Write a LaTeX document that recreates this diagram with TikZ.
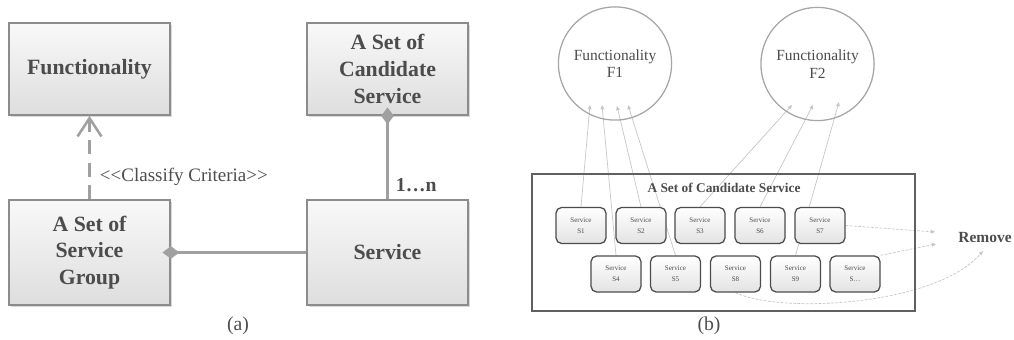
\documentclass[tikz,border=0pt]{standalone}
\usepackage{fontspec}
\setmainfont{Liberation Serif}
\usetikzlibrary{arrows.meta,shadows,backgrounds}
\definecolor{boxline}{HTML}{8C8C8C}
\definecolor{txtgray}{HTML}{4C4C4C}
\definecolor{linkgray}{HTML}{A0A0A0}
\begin{document}
\begin{tikzpicture}[x=0.025cm,y=-0.025cm,
  umlbox/.style={draw=boxline,line width=1.2pt,top color=gray!5,bottom color=gray!26,
    drop shadow={shadow xshift=1.5pt,shadow yshift=-1.5pt,opacity=0.3},
    minimum width=4.025cm,inner sep=0pt,align=center,text=txtgray,
    font=\fontsize{15.5}{19}\selectfont\bfseries},
  umllink/.style={draw=linkgray,line width=1.7pt},
  fcircle/.style={circle,draw=gray!70,line width=0.9pt,minimum size=2.83cm,inner sep=0pt,
    align=center,text=txtgray,font=\fontsize{11}{12.5}\selectfont},
  svcbox/.style={draw=gray!60!black,line width=0.9pt,rounded corners=4pt,top color=white,
    bottom color=gray!22,minimum width=1.25cm,minimum height=0.9cm,inner sep=0pt,
    align=center,text=txtgray,font=\fontsize{5}{8}\selectfont},
  svclink/.style={draw=gray!45,line width=0.5pt,-{Triangle[length=3pt,width=2.6pt]}},
  remlink/.style={svclink,dash pattern=on 2pt off 1pt}]
\useasboundingbox (0,0) rectangle (1014,340);
% (a)
\node[umlbox,minimum height=2.3cm] (func) at (89.5,69) {Functionality};
\node[umlbox,minimum height=2.3cm] (cand) at (387.5,69) {A Set of\\Candidate\\Service};
\node[umlbox,minimum height=2.625cm] (group) at (89.5,252.5) {A Set of\\Service\\Group};
\node[umlbox,minimum height=2.625cm] (serv) at (387.5,252.5) {Service};
\draw[umllink,dash pattern=on 10pt off 6pt,-{Straight Barb[length=13pt,width=17pt,line width=1.8pt]}] (group.north) -- (func.south);
\draw[umllink,{Diamond[length=12pt,width=9pt]}-,shorten <=-6pt] (group.east) -- (serv.west);
\draw[umllink,{Diamond[length=12pt,width=9pt]}-,shorten <=-6pt] (cand.south) -- (serv.north);
\node[anchor=west,text=txtgray,font=\fontsize{13.5}{16}\selectfont] (crit) at (95,177) {<\kern0pt<Classify Criteria>\kern0pt>};
\node[anchor=west,text=txtgray,font=\fontsize{14}{16}\selectfont\bfseries] (mult) at (391,185) {1…n};
\node[text=txtgray,font=\fontsize{14}{16}\selectfont] (capa) at (238,326) {(a)};
% (b)
\node[fcircle] (f1) at (615,63.5) {Functionality\\F1};
\node[fcircle] (f2) at (817.5,64) {Functionality\\F2};
\node[draw=gray!75!black,line width=1pt,minimum width=9.575cm,minimum height=3.425cm,inner sep=0pt] (cset) at (723.5,242.5) {};
\node[text=txtgray,font=\fontsize{9.5}{11}\selectfont\bfseries] (csettitle) at (724,188) {A Set of Candidate Service};
\foreach \nm/\px/\py/\lab in {s1/581/225.5/S1,s2/641/225.5/S2,s3/700/225.5/S3,s6/760/225.5/S6,s7/820/225.5/S7,
  s4/616/274/S4,s5/675.5/274/S5,s8/735.5/274/S8,s9/795.5/274/S9,sn/855/274/S…}
  \node[svcbox] (\nm) at (\px,\py) {Service\\\lab};
\node[text=txtgray,font=\fontsize{11}{13}\selectfont\bfseries] (rem) at (985,238) {Remove};
\node[text=txtgray,font=\fontsize{14}{16}\selectfont] (capb) at (709,326) {(b)};
\coordinate (f1a) at ([shift={(-25,41.5)}]f1.center);
\coordinate (f1b) at ([shift={(-13,41.5)}]f1.center);
\coordinate (f1c) at ([shift={(2,42.5)}]f1.center);
\coordinate (f1d) at ([shift={(13,41.5)}]f1.center);
\coordinate (f2a) at ([shift={(-25.5,41)}]f2.center);
\coordinate (f2b) at ([shift={(-4.5,41)}]f2.center);
\coordinate (f2c) at ([shift={(21.5,38)}]f2.center);
\coordinate (rm1) at (935,232);
\coordinate (rm2) at (936,244);
\coordinate (rm3) at (983,251);
\begin{scope}[on background layer]
\draw[svclink] (s1.north) -- (f1a);
\draw[svclink] (s4.north) -- (f1b);
\draw[svclink] (s2.north) -- (f1c);
\draw[svclink] (s5.north) -- (f1d);
\draw[svclink] (s3.north) -- (f2a);
\draw[svclink] (s6.north) -- (f2b);
\draw[svclink] (s9.north) -- (f2c);
\draw[remlink] (s7.east) -- (rm1);
\draw[remlink] (sn.north east) -- (rm2);
\draw[remlink] (s8.south) .. controls (780,314) and (935,306) .. (rm3);
\end{scope}
\end{tikzpicture}
\end{document}
